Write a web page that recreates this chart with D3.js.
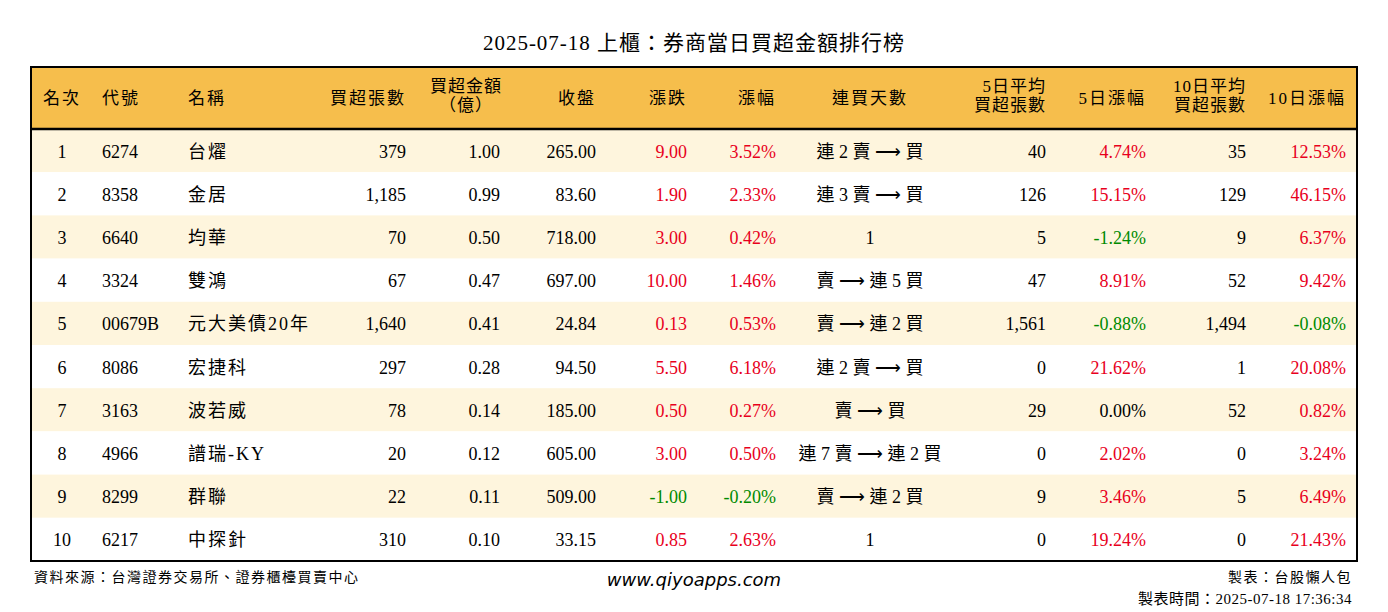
<!DOCTYPE html>
<html>
<head>
<meta charset="utf-8">
<script src="https://d3js.org/d3.v7.min.js"></script>
<style>
body { margin: 0; background: #fff; }
text { font-family: "Liberation Serif", "Noto Sans CJK TC", serif; }
</style>
</head>
<body>
<svg id="chart" width="1388" height="612"></svg>
<script>
var ranks = [1, 2, 3, 4, 5, 6, 7, 8, 9, 10];
var codes = ["6274", "8358", "6640", "3324", "00679B", "8086", "3163", "4966", "8299", "6217"];
var names = ["台燿", "金居", "均華", "雙鴻", "元大美債20年", "宏捷科", "波若威", "譜瑞-KY", "群聯", "中探針"];
var buyLots = ["379", "1,185", "70", "67", "1,640", "297", "78", "20", "22", "310"];
var buyAmt = ["1.00", "0.99", "0.50", "0.47", "0.41", "0.28", "0.14", "0.12", "0.11", "0.10"];
var closes = ["265.00", "83.60", "718.00", "697.00", "24.84", "94.50", "185.00", "605.00", "509.00", "33.15"];
var changes = [9.00, 1.90, 3.00, 10.00, 0.13, 5.50, 0.50, 3.00, -1.00, 0.85];
var pcts = [3.52, 2.33, 0.42, 1.46, 0.53, 6.18, 0.27, 0.50, -0.20, 2.63];
var streaks = ["連 2 賣 ⟶ 買", "連 3 賣 ⟶ 買", "1", "賣 ⟶ 連 5 買", "賣 ⟶ 連 2 買", "連 2 賣 ⟶ 買", "賣 ⟶ 買", "連 7 賣 ⟶ 連 2 買", "賣 ⟶ 連 2 買", "1"];
var avg5 = ["40", "126", "5", "47", "1,561", "0", "29", "0", "9", "0"];
var pct5 = [4.74, 15.15, -1.24, 8.91, -0.88, 21.62, 0.00, 2.02, 3.46, 19.24];
var avg10 = ["35", "129", "9", "52", "1,494", "1", "52", "0", "5", "0"];
var pct10 = [12.53, 46.15, 6.37, 9.42, -0.08, 20.08, 0.82, 3.24, 6.49, 21.43];

var svg = d3.select("#chart");
var bx0 = 31, bx1 = 1357, by0 = 67, headH = 62, by1 = 561;

var y = d3.scaleBand().domain(d3.range(ranks.length)).range([by0 + headH, by1]);

function col(v) { return v > 0 ? "#e8001c" : (v < 0 ? "#008a00" : "#000"); }
function f2(v) { return v.toFixed(2); }
function p2(v) { return v.toFixed(2) + "%"; }

var columns = [
  { h: ["名次"], x: 62, a: "middle", v: function (i) { return ranks[i]; } },
  { h: ["代號"], x: 102, a: "start", v: function (i) { return codes[i]; } },
  { h: ["名稱"], x: 188, a: "start", ls: 2, v: function (i) { return names[i]; } },
  { h: ["買超張數"], x: 406, a: "end", v: function (i) { return buyLots[i]; } },
  { h: ["買超金額", "（億）"], x: 500, hx: 466, a: "end", v: function (i) { return buyAmt[i]; } },
  { h: ["收盤"], x: 596, a: "end", v: function (i) { return closes[i]; } },
  { h: ["漲跌"], x: 687, a: "end", v: function (i) { return f2(changes[i]); }, c: function (i) { return col(changes[i]); } },
  { h: ["漲幅"], x: 776, a: "end", v: function (i) { return p2(pcts[i]); }, c: function (i) { return col(pcts[i]); } },
  { h: ["連買天數"], x: 870, a: "middle", v: function (i) { return streaks[i]; } },
  { h: ["5日平均", "買超張數"], x: 1046, a: "end", v: function (i) { return avg5[i]; } },
  { h: ["5日漲幅"], x: 1146, a: "end", v: function (i) { return p2(pct5[i]); }, c: function (i) { return col(pct5[i]); } },
  { h: ["10日平均", "買超張數"], x: 1246, a: "end", v: function (i) { return avg10[i]; } },
  { h: ["10日漲幅"], x: 1346, a: "end", v: function (i) { return p2(pct10[i]); }, c: function (i) { return col(pct10[i]); } }
];

// title
svg.append("text").attr("x", 694).attr("y", 50).attr("text-anchor", "middle")
  .style("font-size", "21px").style("letter-spacing", "1px").text("2025-07-18 上櫃：券商當日買超金額排行榜");

// header
svg.append("rect").attr("x", bx0).attr("y", by0).attr("width", bx1 - bx0).attr("height", headH)
  .attr("fill", "#f6be4c");

// rows
svg.selectAll(".row").data(ranks).enter().append("rect")
  .attr("x", bx0).attr("y", function (d, i) { return y(i); })
  .attr("width", bx1 - bx0).attr("height", y.bandwidth())
  .attr("fill", function (d, i) { return i % 2 === 0 ? "#fef5dd" : "#fff"; });

svg.append("line").attr("x1", bx0).attr("x2", bx1).attr("y1", by0 + headH).attr("y2", by0 + headH)
  .attr("stroke", "#000").attr("stroke-width", 2.5);
svg.append("rect").attr("x", bx0).attr("y", by0).attr("width", bx1 - bx0).attr("height", by1 - by0)
  .attr("fill", "none").attr("stroke", "#000").attr("stroke-width", 2);

columns.forEach(function (c) {
  var hx = c.hx !== undefined ? c.hx : c.x;
  var ha = c.hx !== undefined ? "middle" : c.a;
  if (c.h.length === 1) {
    svg.append("text").attr("x", hx).attr("y", by0 + headH / 2 + 6).attr("text-anchor", ha)
      .style("font-size", "17px").style("letter-spacing", "2px").text(c.h[0]);
  } else {
    c.h.forEach(function (t, k) {
      svg.append("text").attr("x", hx).attr("y", by0 + 25 + k * 19).attr("text-anchor", ha)
        .style("font-size", "17px").style("letter-spacing", "1px").text(t);
    });
  }
  svg.selectAll(null).data(ranks).enter().append("text")
    .attr("x", c.x).attr("y", function (d, i) { return y(i) + y.bandwidth() / 2 + 7; })
    .attr("text-anchor", c.a).style("font-size", "18px")
    .style("letter-spacing", (c.ls || 0) + "px")
    .attr("fill", function (d, i) { return c.c ? c.c(i) : "#000"; })
    .text(function (d, i) { return c.v(i); });
});

// footer
svg.append("text").attr("x", 34).attr("y", 582).style("font-size", "14px").style("letter-spacing", "1.5px").text("資料來源：台灣證券交易所、證券櫃檯買賣中心");
svg.append("text").attr("x", 694).attr("y", 586).attr("text-anchor", "middle")
  .style("font-family", "'DejaVu Sans', sans-serif").style("font-style", "italic").style("font-size", "18px")
  .text("www.qiyoapps.com");
svg.append("text").attr("x", 1352).attr("y", 582).attr("text-anchor", "end").style("font-size", "14px").style("letter-spacing", "1.5px").text("製表：台股懶人包");
svg.append("text").attr("x", 1352).attr("y", 604).attr("text-anchor", "end").style("font-size", "15px").style("letter-spacing", "0.5px").text("製表時間：2025-07-18 17:36:34");
</script>
</body>
</html>
